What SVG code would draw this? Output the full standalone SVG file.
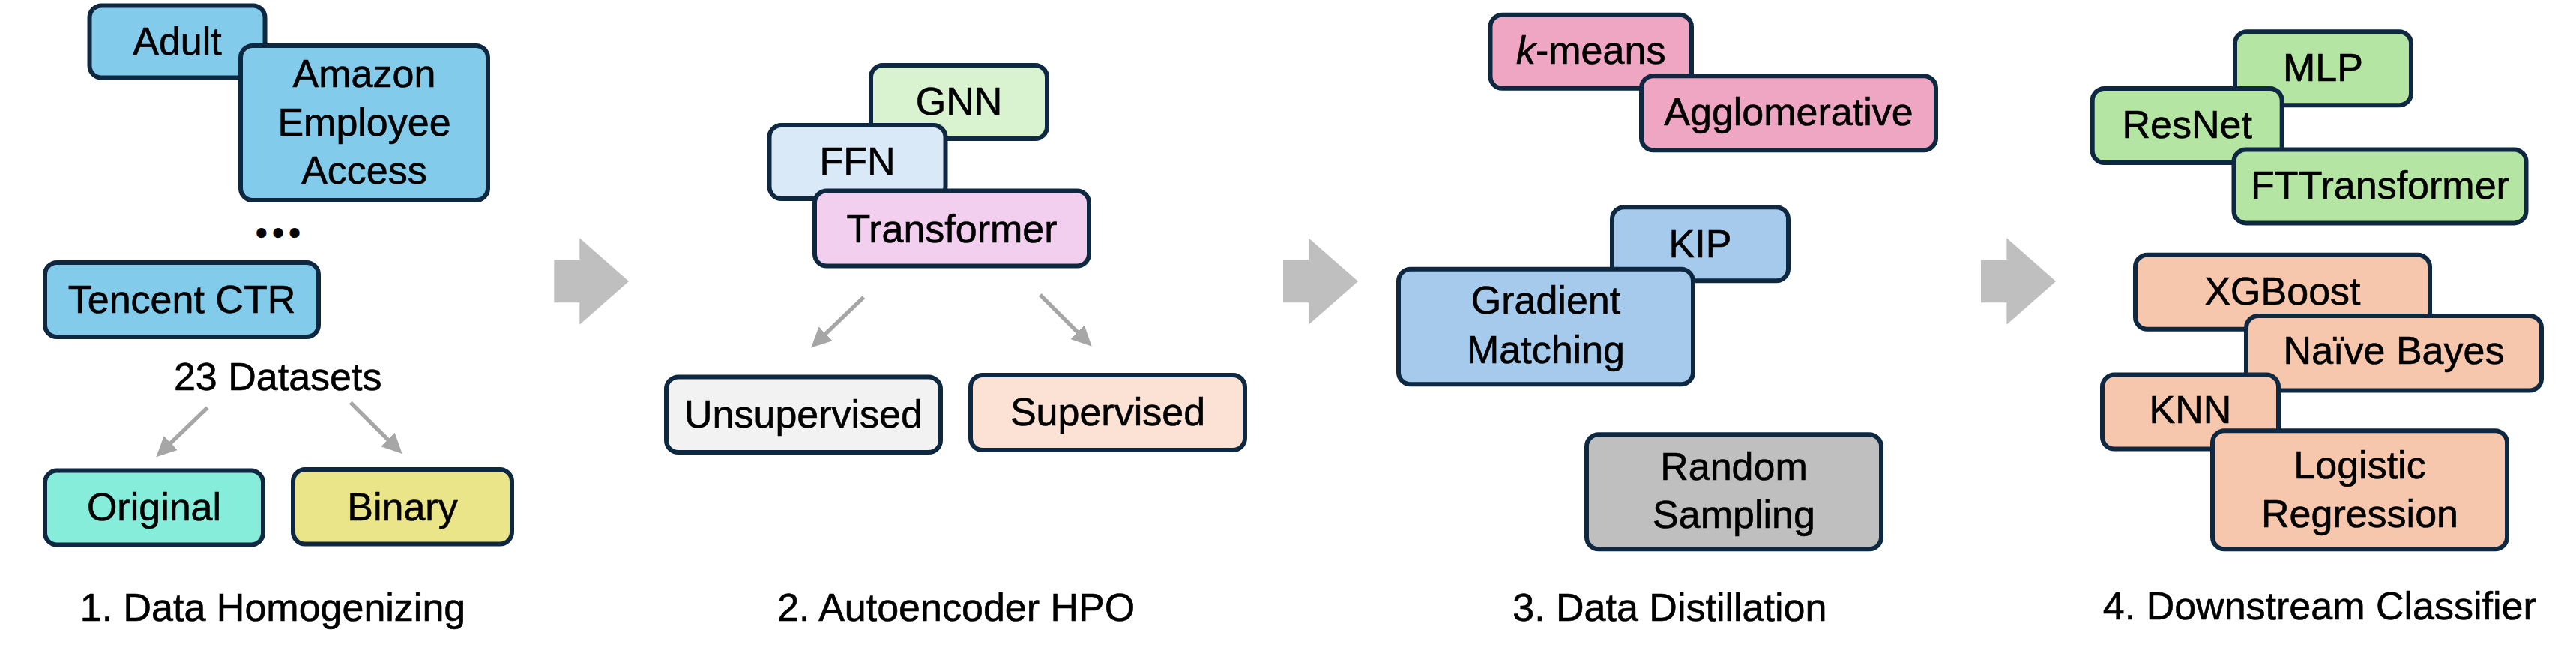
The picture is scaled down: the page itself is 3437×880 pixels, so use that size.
<svg xmlns="http://www.w3.org/2000/svg" width="3437" height="880" viewBox="0 0 3437 880">
<style>
.box{stroke:#0e2841;stroke-width:6}
.t{font-family:"Liberation Sans",Arial,sans-serif;font-size:52px;fill:#000;stroke:#000;stroke-width:0.6;text-anchor:middle}
.conn{stroke:#a6a6a6;stroke-width:5.3;fill:none}
.big{fill:#bfbfbf}
.blue{fill:#83cbeb}
</style>
<defs>
<marker id="ah" viewBox="0 0 27 26" markerWidth="27" markerHeight="26" markerUnits="userSpaceOnUse" refX="7" refY="13" orient="auto">
<path d="M0,0 L27,13 L0,26 z" fill="#a6a6a6"/>
</marker>
</defs>
<rect width="3437" height="880" fill="#fff"/>

<g id="connectors">
<line class="conn" x1="276.7" y1="543.3" x2="222.7" y2="595.4" marker-end="url(#ah)"/>
<line class="conn" x1="467.7" y1="536.7" x2="522.5" y2="590.9" marker-end="url(#ah)"/>
<line class="conn" x1="1152.4" y1="396.2" x2="1096.6" y2="449.7" marker-end="url(#ah)"/>
<line class="conn" x1="1387.7" y1="392.8" x2="1442.6" y2="447.7" marker-end="url(#ah)"/>
<polygon class="big" points="739.3,346 773.3,346 773.3,317.3 839,375 773.3,432.7 773.3,403.3 739.3,403.3"/>
<polygon class="big" points="1712,346 1746,346 1746,317.3 1812,375 1746,432.7 1746,403.3 1712,403.3"/>
<polygon class="big" points="2643,346 2677.4,346 2677.4,317.3 2743,375 2677.4,432.7 2677.4,403.3 2643,403.3"/>
</g>

<!-- Panel 1 -->
<g id="adult"><rect class="box blue" x="119.5" y="7.5" width="234" height="96" rx="16"/><text class="t" x="236.5" y="73">Adult</text></g>
<g id="amazon"><rect class="box blue" x="321" y="61" width="330" height="206" rx="16"/><text class="t" x="486" y="116">Amazon</text><text class="t" x="486" y="181">Employee</text><text class="t" x="486" y="245">Access</text></g>
<g id="ellipsis"><text class="t" x="374" y="326" style="font-size:46px;letter-spacing:6px">•••</text></g>
<g id="tencent"><rect class="box blue" x="60" y="350" width="365" height="99" rx="16"/><text class="t" x="242.5" y="417">Tencent CTR</text></g>
<g id="datasets"><text class="t" x="370.7" y="520">23 Datasets</text></g>
<g id="original"><rect class="box" fill="#87eddb" x="60" y="627.6" width="291" height="99" rx="16"/><text class="t" x="205.5" y="694">Original</text></g>
<g id="binary"><rect class="box" fill="#ebe58a" x="391" y="626" width="292" height="99.5" rx="16"/><text class="t" x="537" y="694">Binary</text></g>
<g id="title1"><text class="t" x="364" y="827.7">1. Data Homogenizing</text></g>

<!-- Panel 2 -->
<g id="gnn"><rect class="box" fill="#d9f2d0" x="1162" y="87" width="235" height="98" rx="16"/><text class="t" x="1279.5" y="152.6">GNN</text></g>
<g id="ffn"><rect class="box" fill="#dae9f8" x="1026.5" y="167" width="235" height="98" rx="16"/><text class="t" x="1144" y="233">FFN</text></g>
<g id="transformer"><rect class="box" fill="#f2ceef" x="1087" y="254.5" width="366" height="100" rx="16"/><text class="t" x="1270" y="322.7">Transformer</text></g>
<g id="unsupervised"><rect class="box" fill="#f2f2f2" x="889" y="502.5" width="366" height="100.5" rx="16"/><text class="t" x="1072" y="569.6">Unsupervised</text></g>
<g id="supervised"><rect class="box" fill="#fbe2d5" x="1295" y="500" width="366" height="100" rx="16"/><text class="t" x="1478" y="567">Supervised</text></g>
<g id="title2"><text class="t" x="1275.7" y="827.7">2. Autoencoder HPO</text></g>

<!-- Panel 3 -->
<g id="kmeans"><rect class="box" fill="#eea6c2" x="1988.5" y="19.8" width="268.5" height="98" rx="16"/><text class="t" x="2122.7" y="85.3"><tspan font-style="italic">k</tspan>-means</text></g>
<g id="agglomerative"><rect class="box" fill="#eea6c2" x="2190" y="101.2" width="393" height="99" rx="16"/><text class="t" x="2386.5" y="166.7">Agglomerative</text></g>
<g id="kip"><rect class="box" fill="#a6caec" x="2151" y="276.3" width="235" height="98" rx="16"/><text class="t" x="2268.5" y="343.4">KIP</text></g>
<g id="gradient"><rect class="box" fill="#a6caec" x="1866" y="358.8" width="393" height="153.4" rx="16"/><text class="t" x="2062.5" y="418">Gradient</text><text class="t" x="2062.5" y="483.7">Matching</text></g>
<g id="random"><rect class="box" fill="#bfbfbf" x="2117" y="579.3" width="393" height="153" rx="16"/><text class="t" x="2313.5" y="639.7">Random</text><text class="t" x="2313.5" y="704.3">Sampling</text></g>
<g id="title3"><text class="t" x="2227.8" y="827.7">3. Data Distillation</text></g>

<!-- Panel 4 -->
<g id="mlp"><rect class="box" fill="#b4e5a2" x="2982" y="42.3" width="235" height="98" rx="16"/><text class="t" x="3099.5" y="107.7">MLP</text></g>
<g id="resnet"><rect class="box" fill="#b4e5a2" x="2791.7" y="118" width="253" height="99" rx="16"/><text class="t" x="2918.2" y="184">ResNet</text></g>
<g id="fttransformer"><rect class="box" fill="#b4e5a2" x="2980.5" y="199.4" width="390" height="98" rx="16"/><text class="t" x="3175.5" y="264.9">FTTransformer</text></g>
<g id="xgboost"><rect class="box" fill="#f6c6ad" x="2849" y="339.7" width="393" height="99" rx="16"/><text class="t" x="3045.5" y="405.7">XGBoost</text></g>
<g id="naivebayes"><rect class="box" fill="#f6c6ad" x="2997" y="421" width="394" height="99.6" rx="16"/><text class="t" x="3194" y="485.4">Naïve Bayes</text></g>
<g id="knn"><rect class="box" fill="#f6c6ad" x="2805" y="499.6" width="235" height="99" rx="16"/><text class="t" x="2922.5" y="564">KNN</text></g>
<g id="logistic"><rect class="box" fill="#f6c6ad" x="2952" y="574.3" width="393" height="158" rx="16"/><text class="t" x="3148.5" y="638">Logistic</text><text class="t" x="3148.5" y="703">Regression</text></g>
<g id="title4"><text class="t" x="3094.8" y="826">4. Downstream Classifier</text></g>
</svg>
